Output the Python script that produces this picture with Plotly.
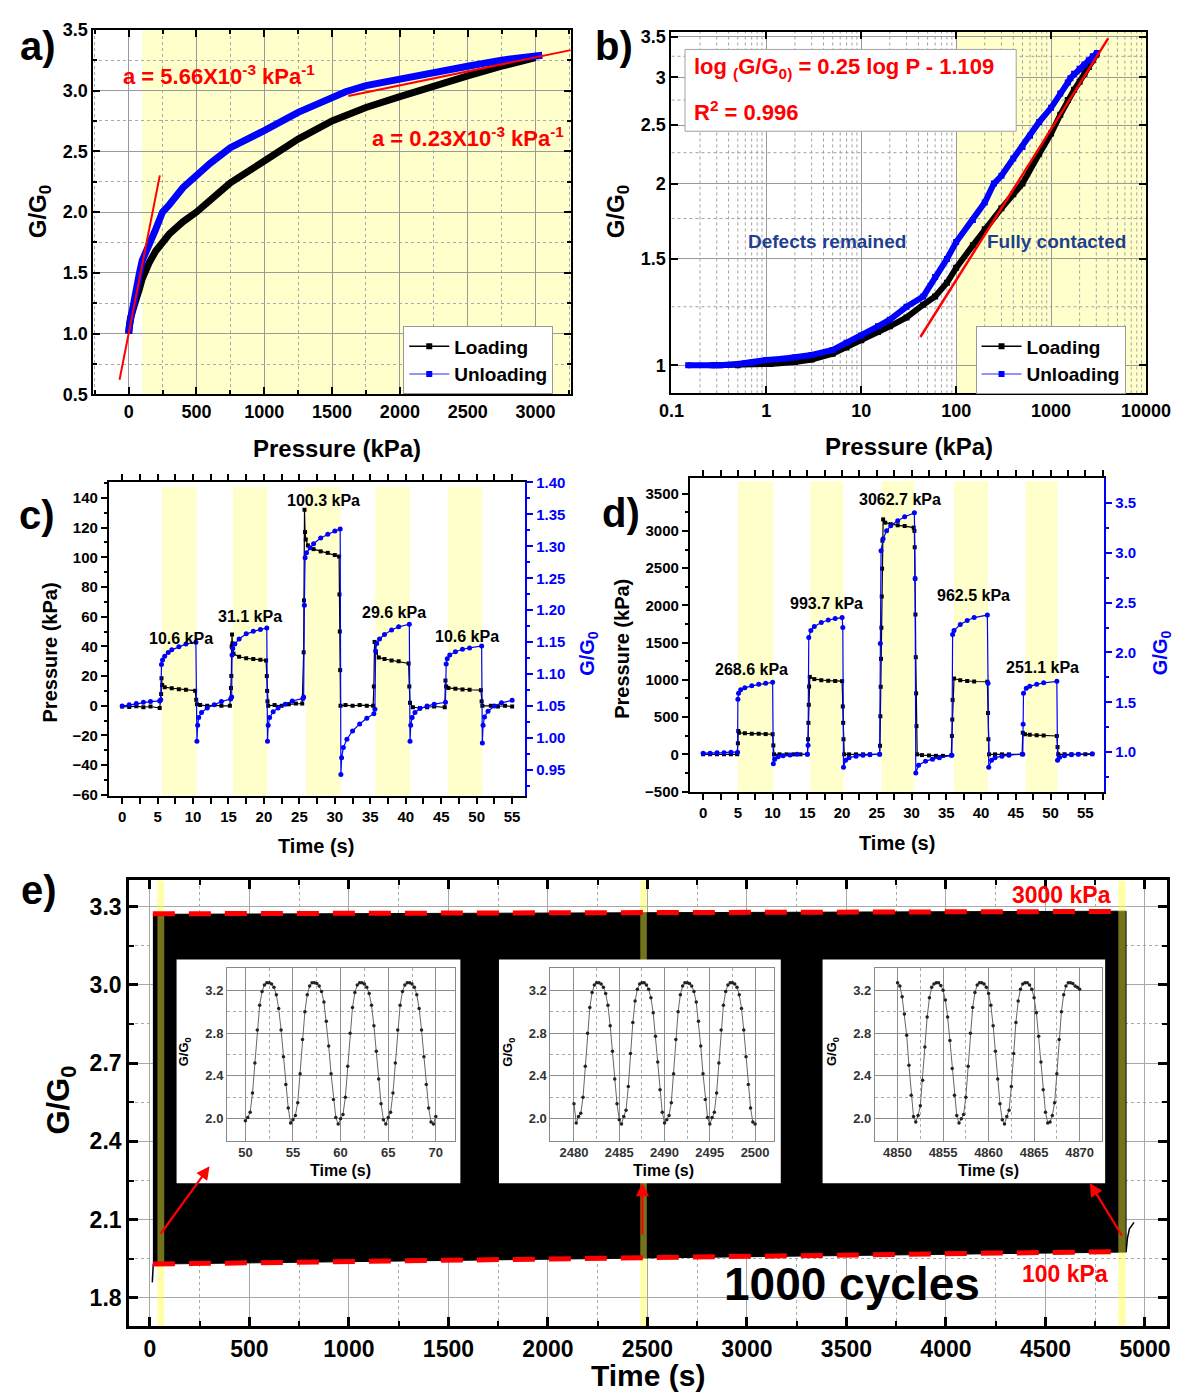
import math
import plotly.graph_objects as go

FONT = "Arial, 'Liberation Sans', Helvetica, sans-serif"
W, H = 1200, 1400
BLUE = "#0000FF"
RED = "#FF0000"
SHADE = "#FFFFCC"
NAVY = "#1F3F8F"


def fx(p):
    return p / W


def fy(p):
    return 1 - p / H


# ---------------- (a) / (b): G/G0 versus pressure ----------------
load_p = [0, 0.27, 0.5, 1.1, 2, 3, 5, 7, 10, 15, 20, 30, 45, 60, 80, 100, 150, 200, 300, 400,
          500, 750, 1000, 1250, 1500, 1750, 2000, 2250, 2500, 2750, 3000]
load_g = [1.0, 1.0, 1.0, 1.005, 1.012, 1.022, 1.045, 1.07, 1.1, 1.135, 1.16, 1.2, 1.26, 1.3, 1.37, 1.45,
          1.58, 1.68, 1.82, 1.92, 2.0, 2.24, 2.42, 2.6, 2.75, 2.86, 2.95, 3.04, 3.12, 3.2, 3.27]
unload_p = [3050, 2750, 2500, 2250, 2000, 1750, 1600, 1500, 1250, 1000, 750, 600, 500, 400, 300, 250,
            200, 150, 100, 80, 60, 45, 30, 20, 15, 10, 7, 5, 3, 2, 1.5, 1, 0.7, 0.6, 0.5, 0.33, 0.15, 0]
unload_g = [3.29, 3.25, 3.2, 3.15, 3.1, 3.04, 2.99, 2.94, 2.82, 2.67, 2.53, 2.40, 2.3, 2.2, 2.06, 2.0,
            1.86, 1.74, 1.6, 1.5, 1.4, 1.3, 1.25, 1.19, 1.16, 1.12, 1.09, 1.06, 1.04, 1.03, 1.025, 1.02,
            1.01, 1.008, 1.005, 1.0, 1.0, 1.0]

# linear sensitivities (kPa^-1) and the ranges they are drawn over
slope_low, slope_high = 5.66e-3, 0.23e-3
fit_low_p = [-67, 230]
fit_high_p = [1620, 3260]
fit_high_start = 2.955

# power-law fit: log(G/G0) = 0.25 log P - 1.109 (P in Pa)
fit_exp, fit_const = 0.25, -1.109
fit_log_p = [42, 4000]

# ---------------- (c): low pressure steps ----------------
c_t_p = [0, 1, 2, 3, 4, 5.3, 5.5, 5.55, 5.65, 6, 7, 8, 9, 10.3, 10.45, 10.55, 11, 12, 13, 14,
         15.2, 15.35, 15.4, 15.45, 15.5, 15.55, 15.7, 16.5, 17.5, 18.5, 19.5, 20.3, 20.4, 20.45, 20.5, 20.6,
         21.5, 22.5, 23.5, 24.5, 25.4, 25.6, 25.65, 25.72, 25.8, 25.9, 26.2, 27, 28, 29, 30, 30.6, 30.65,
         30.7, 30.75, 30.8, 31.5, 32.5, 33.5, 34.5, 35.4, 35.5, 35.6, 35.8, 36.2, 37, 38, 39, 40.4, 40.5,
         40.6, 41, 42, 43, 44, 45.5, 45.6, 45.7, 46, 47, 48, 49, 50.6, 50.7, 50.8, 52, 53, 54, 55]
c_p = [-0.5, -0.8, -0.3, -1, -0.5, -1.5, 8, 18.5, 14, 12.5, 11.8, 11.2, 10.8, 10.2, 4, 1, 0.5, 0, 0.5, 0,
       0, 12, 20, 40, 48, 42, 35, 33, 32, 31.5, 31, 30.5, 20, 10, 3, 0,
       0.5, 0, 1, 1.5, 1.5, 36, 71, 132, 117, 112, 108, 105.5, 104, 103, 101.5, 100.5, 75,
       50, 24, 0, 0.5, 0, 0.5, 0, 0, 13, 43, 36, 32.5, 31.5, 30.5, 30, 28.5, 13,
       2, -1, -1.5, -1, -0.5, -1, 17, 13, 12, 11.5, 11, 10.8, 10.5, 3, 0, 0, -0.5, 0, -0.5]
c_t_g = [0, 1, 2, 3, 4, 5.3, 5.45, 5.55, 5.7, 6, 6.5, 7, 8, 9, 10.4, 10.55, 10.65, 10.8, 11.2, 12, 13, 14,
         15.3, 15.45, 15.5, 15.6, 15.9, 16.5, 17.5, 18.5, 19.5, 20.4, 20.5, 20.6, 20.8, 21.3, 22, 23, 24,
         25.5, 25.6, 25.7, 25.8, 26, 26.5, 27, 28, 29, 30, 30.75, 30.85, 30.95, 31.2, 31.7, 32.5, 33.5,
         34.5, 35.5, 35.65, 35.75, 35.9, 36.3, 37, 38, 39, 40.5, 40.6, 40.7, 40.9, 41.3, 42, 43, 44,
         45.6, 45.7, 45.85, 46.2, 47, 48, 49, 50.7, 50.8, 50.9, 51.1, 51.6, 52.5, 53.5, 55]
c_g = [1.050, 1.052, 1.054, 1.056, 1.057, 1.058, 1.060, 1.115, 1.122, 1.128, 1.134, 1.138, 1.143, 1.147,
       1.150, 0.995, 1.02, 1.032, 1.040, 1.047, 1.052, 1.057,
       1.061, 1.064, 1.13, 1.14, 1.147, 1.155, 1.163, 1.167, 1.170, 1.172, 0.995, 1.02, 1.032, 1.041,
       1.047, 1.053, 1.058,
       1.062, 1.064, 1.208, 1.282, 1.290, 1.298, 1.304, 1.313, 1.319, 1.324, 1.327, 0.943, 0.969, 0.985,
       0.998, 1.011, 1.022,
       1.031, 1.038, 1.045, 1.136, 1.148, 1.155, 1.162, 1.169, 1.174, 1.178, 0.995, 1.02, 1.032, 1.040,
       1.046, 1.050, 1.053,
       1.056, 1.116, 1.124, 1.130, 1.135, 1.139, 1.141, 1.144, 0.992, 1.02, 1.033, 1.042, 1.050, 1.055,
       1.059]
c_bands = [(5.6, 10.5), (15.6, 20.5), (25.9, 30.8), (35.7, 40.6), (45.9, 50.8)]
c_labels = ["10.6 kPa", "31.1 kPa", "100.3 kPa", "29.6 kPa", "10.6 kPa"]
c_label_t = [8.25, 18.07, 28.36, 38.4, 48.7]
c_label_p = [45.6, 60.4, 138.5, 62.7, 46.7]

# ---------------- (d): high pressure steps ----------------
d_t_p = [0, 1, 2, 3, 4, 4.9, 5.0, 5.05, 5.15, 6, 7, 8, 9, 10.0, 10.1, 10.2, 11, 12, 13, 14,
         15.0, 15.1, 15.15, 15.2, 15.25, 15.35, 16, 17, 18, 19, 20.0, 20.1, 20.15, 20.2, 20.3, 21, 22, 23,
         24, 25.4, 25.45, 25.5, 25.55, 25.6, 25.65, 25.7, 25.75, 25.8, 25.9, 26.2, 27, 28, 29, 30.3, 30.4,
         30.45, 30.5, 30.55, 30.6, 30.65, 30.7, 30.8, 31.5, 32.5, 33.5, 34.5, 35.7, 35.8, 35.85, 35.9,
         36.1, 37, 38, 39, 40.9, 41.0, 41.05, 41.15, 42, 43, 44, 45.9, 46.0, 46.3, 47, 48, 49, 50.9, 51.0,
         51.1, 52, 53, 54, 55, 56]
d_p = [0, 0, 0, 0, 0, 0, 150, 313, 290, 282, 278, 275, 272, 270, 120, 0, 0, 0, 0, 0,
       0, 203, 423, 665, 910, 1040, 1010, 995, 988, 985, 983, 643, 423, 203, 0, 0, 0, 0,
       0, 0, 115, 511, 907, 1282, 1700, 2119, 2493, 2868, 3154, 3110, 3090, 3075, 3065, 3044, 3000,
       2780, 2362, 1877, 1304, 819, 379, 0, -10, -15, -20, -20, -15, 247, 467, 731,
       1018, 995, 985, 978, 975, 555, 203, 0, 0, 0, 0, 0, 291, 269, 262, 257, 253, 247, 100,
       0, 0, 0, 0, 0, 0]
d_t_g = [0, 1, 2, 3, 4, 4.95, 5.0, 5.1, 5.4, 6, 7, 8, 9, 10.0, 10.1, 10.3, 10.8, 11.5, 12.5, 13.5,
         15.0, 15.1, 15.2, 15.5, 16, 17, 18, 19, 20.0, 20.1, 20.2, 20.5, 21, 22, 23, 24,
         25.4, 25.5, 25.6, 25.9, 26.4, 27, 28, 29, 30.4, 30.5, 30.6, 31, 32, 33, 34,
         35.8, 35.9, 36.1, 37, 38, 39, 40.9, 41.0, 41.1, 41.5, 42, 43, 44,
         46.0, 46.05, 46.1, 46.5, 47, 48, 49, 50.9, 51.0, 51.3, 52, 53, 54, 56]
d_g = [0.99, 0.99, 0.995, 0.995, 1.0, 1.0, 1.53, 1.59, 1.625, 1.645, 1.665, 1.68, 1.69, 1.70, 0.885, 0.93,
       0.955, 0.965, 0.972, 0.978,
       0.98, 1.07, 2.15, 2.22, 2.26, 2.30, 2.325, 2.34, 2.35, 2.25, 0.85, 0.92, 0.945, 0.96, 0.97, 0.975,
       0.98, 2.09, 3.02, 3.14, 3.22, 3.27, 3.32, 3.36, 3.40, 2.74, 0.79, 0.87, 0.91, 0.93, 0.945,
       0.97, 2.18, 2.22, 2.28, 2.32, 2.35, 2.375, 1.69, 0.85, 0.92, 0.945, 0.96, 0.97,
       0.98, 1.28, 1.59, 1.64, 1.66, 1.68, 1.695, 1.71, 0.92, 0.95, 0.965, 0.975, 0.98, 0.985]
d_bands = [(5.0, 10.1), (15.4, 20.2), (25.7, 30.4), (36.1, 41.0), (46.4, 51.0)]
d_labels = ["268.6 kPa", "993.7 kPa", "3062.7 kPa", "962.5 kPa", "251.1 kPa"]
d_label_t = [7.0, 17.8, 28.3, 38.9, 48.9]
d_label_p = [1139, 2020, 3420, 2130, 1165]

# ---------------- (e): 1000 loading cycles ----------------
e_time = [15, 500, 1000, 1500, 2000, 2500, 3000, 3500, 4000, 4500, 4905]
e_upper = [3.27, 3.271, 3.273, 3.274, 3.276, 3.277, 3.278, 3.279, 3.280, 3.281, 3.282]
e_lower = [1.930, 1.935, 1.940, 1.945, 1.950, 1.955, 1.960, 1.963, 1.967, 1.972, 1.976]
e_head_t = [12, 14, 17]
e_head_g = [1.86, 1.89, 1.93]
e_tail_t = [4905, 4912, 4922, 4945]
e_tail_g = [1.976, 2.03, 2.065, 2.09]
e_line_t = [15, 4880]
e_top_line = [3.272, 3.281]      # 3000 kPa level
e_bottom_line = [1.930, 1.978]   # 100 kPa level
e_windows = [(38, 72), (2464, 2497), (4866, 4903)]

inset1_g = [1.98, 2.01, 2.06, 2.24, 2.52, 2.83, 3.06, 3.19, 3.25, 3.27, 3.27, 3.26, 3.23, 3.16, 3.03, 2.83,
            2.58, 2.32, 2.10, 1.96, 1.99, 2.03, 2.15, 2.42, 2.74, 3.00, 3.16, 3.24, 3.27, 3.27, 3.265,
            3.24, 3.19, 3.09, 2.91, 2.68, 2.42, 2.18, 2.01, 1.95, 2.00, 2.04, 2.20, 2.49, 2.80, 3.04,
            3.18, 3.25, 3.27, 3.27, 3.26, 3.23, 3.17, 3.06, 2.87, 2.63, 2.37, 2.14, 1.99, 1.95, 2.01,
            2.06, 2.24, 2.52, 2.83, 3.06, 3.19, 3.25, 3.27, 3.27, 3.26, 3.23, 3.16, 3.03, 2.83, 2.58,
            2.32, 2.10, 1.97, 1.95, 2.02]
inset2_g = [2.14, 1.96, 2.02, 2.05, 2.20, 2.49, 2.80, 3.04, 3.18, 3.25, 3.27, 3.27, 3.26, 3.23, 3.17,
            3.06, 2.87, 2.63, 2.37, 2.14, 1.99, 1.95, 2.02, 2.08, 2.30, 2.61, 2.90, 3.10, 3.21, 3.26,
            3.27, 3.27, 3.25, 3.21, 3.13, 2.99, 2.77, 2.53, 2.27, 2.06, 1.96, 1.99, 2.03, 2.15, 2.42,
            2.74, 3.00, 3.16, 3.24, 3.27, 3.27, 3.265, 3.24, 3.19, 3.09, 2.91, 2.68, 2.42, 2.18, 2.01,
            1.95, 2.01, 2.06, 2.24, 2.52, 2.83, 3.06, 3.19, 3.25, 3.27, 3.27, 3.26, 3.23, 3.16, 3.03,
            2.83, 2.58, 2.32, 2.10, 1.97, 1.95]
inset3_g = [3.27, 3.24, 3.14, 2.98, 2.78, 2.50, 2.22, 2.02, 1.97, 2.03, 2.12, 2.36, 2.67, 2.95, 3.13,
            3.23, 3.26, 3.27, 3.27, 3.245, 3.20, 3.11, 2.95, 2.73, 2.47, 2.22, 2.03, 1.96, 2.00, 2.04,
            2.20, 2.49, 2.80, 3.04, 3.18, 3.25, 3.27, 3.27, 3.26, 3.23, 3.17, 3.06, 2.87, 2.63, 2.37,
            2.14, 1.99, 1.95, 2.02, 2.08, 2.30, 2.61, 2.90, 3.10, 3.21, 3.26, 3.27, 3.27, 3.25, 3.21,
            3.13, 2.99, 2.77, 2.53, 2.27, 2.06, 1.96, 1.97, 2.03, 2.15, 2.42, 2.74, 3.00, 3.16, 3.24,
            3.27, 3.27, 3.265, 3.24, 3.23, 3.21]
inset_start = [50.0, 2480.0, 4850.0]
sample_step = 0.25

fig = go.Figure()


def add(trace, xa, ya):
    trace.update(xaxis=xa, yaxis=ya)
    if trace.showlegend is None:
        trace.showlegend = False
    trace.hoverinfo = "skip"
    fig.add_trace(trace)


# ---- (a) ----
add(go.Scatter(x=load_p, y=load_g, mode="lines", line=dict(color="black", width=7)), "x", "y")
add(go.Scatter(x=unload_p, y=unload_g, mode="lines", line=dict(color=BLUE, width=7)), "x", "y")
add(go.Scatter(x=fit_low_p, y=[1.0 + slope_low * p for p in fit_low_p], mode="lines",
               line=dict(color=RED, width=2)), "x", "y")
add(go.Scatter(x=fit_high_p, y=[fit_high_start + slope_high * (p - fit_high_p[0]) for p in fit_high_p],
               mode="lines", line=dict(color=RED, width=2)), "x", "y")
for nm, col, lcol in [("Loading", "black", "black"), ("Unloading", BLUE, "#7070FF")]:
    fig.add_trace(go.Scatter(x=[None], y=[None], mode="lines+markers", name=nm, legend="legend",
                             line=dict(color=lcol, width=1.5), marker=dict(symbol="square", size=6, color=col),
                             xaxis="x", yaxis="y", showlegend=True))

# ---- (b) ----
b_ylo, b_yhi = 0.898, 3.57
gx, gy = [], []
for dec in [0.1, 1, 10, 100, 1000]:
    for k in range(2, 10):
        gx += [k * dec, k * dec, None]
        gy += [b_ylo, b_yhi, None]
for v in [1.25, 1.75, 2.25, 2.75, 3.25]:
    gx += [0.1, 10000, None]
    gy += [v, v, None]
add(go.Scatter(x=gx, y=gy, mode="lines", line=dict(color="#A0A0A0", width=1, dash="dot")), "x2", "y2")
bl = [(p, g) for p, g in zip(load_p, load_g) if p > 0]
bu = [(p, g) for p, g in zip(unload_p, unload_g) if p > 0]
add(go.Scatter(x=[p for p, _ in bl], y=[g for _, g in bl], mode="lines+markers",
               line=dict(color="black", width=6), marker=dict(symbol="square", size=6, color="black")), "x2", "y2")
add(go.Scatter(x=[p for p, _ in bu], y=[g for _, g in bu], mode="lines+markers",
               line=dict(color=BLUE, width=6), marker=dict(symbol="square", size=6, color=BLUE)), "x2", "y2")
add(go.Scatter(x=fit_log_p, y=[10 ** (fit_exp * math.log10(p * 1000) + fit_const) for p in fit_log_p],
               mode="lines", line=dict(color=RED, width=2.5)), "x2", "y2")
for nm, col, lcol in [("Loading", "black", "black"), ("Unloading", BLUE, "#7070FF")]:
    fig.add_trace(go.Scatter(x=[None], y=[None], mode="lines+markers", name=nm, legend="legend2",
                             line=dict(color=lcol, width=1.5), marker=dict(symbol="square", size=6, color=col),
                             xaxis="x2", yaxis="y2", showlegend=True))

# ---- (c) ----
add(go.Scatter(x=c_t_p, y=c_p, mode="lines+markers", line=dict(color="black", width=1.2),
               marker=dict(symbol="square", size=4, color="black")), "x3", "y3")
add(go.Scatter(x=c_t_g, y=c_g, mode="lines+markers", line=dict(color=BLUE, width=1.2),
               marker=dict(symbol="circle", size=5, color=BLUE)), "x3", "y4")

# ---- (d) ----
add(go.Scatter(x=d_t_p, y=d_p, mode="lines+markers", line=dict(color="black", width=1.2),
               marker=dict(symbol="square", size=4, color="black")), "x4", "y5")
add(go.Scatter(x=d_t_g, y=d_g, mode="lines+markers", line=dict(color=BLUE, width=1.2),
               marker=dict(symbol="circle", size=5, color=BLUE)), "x4", "y6")

# ---- (e) ----
add(go.Scatter(x=e_time + e_time[::-1], y=e_upper + e_lower[::-1], mode="lines", fill="toself",
               fillcolor="black", line=dict(color="black", width=1)), "x5", "y7")
add(go.Scatter(x=e_head_t, y=e_head_g, mode="lines", line=dict(color="black", width=1.5)), "x5", "y7")
add(go.Scatter(x=e_tail_t, y=e_tail_g, mode="lines", line=dict(color="black", width=1.5)), "x5", "y7")
for t0, t1 in e_windows:
    add(go.Scatter(x=[t0, t1, t1, t0, t0], y=[1.693, 1.693, 3.4, 3.4, 1.693], mode="lines", fill="toself",
                   fillcolor="rgba(255,255,60,0.45)", line=dict(width=0)), "x5", "y7")
# white panels behind the zoomed views
for t0, t1 in [(134, 1560), (1754, 3170), (3380, 4800)]:
    add(go.Scatter(x=[t0, t1, t1, t0, t0], y=[2.24, 2.24, 3.097, 3.097, 2.24], mode="lines", fill="toself",
                   fillcolor="white", line=dict(width=0)), "x5", "y7")
add(go.Scatter(x=e_line_t, y=e_top_line, mode="lines", line=dict(color=RED, width=5, dash="22px,14px")),
    "x5", "y7")
add(go.Scatter(x=e_line_t, y=e_bottom_line, mode="lines", line=dict(color=RED, width=5, dash="22px,14px")),
    "x5", "y7")

inset_axes = [("x6", "y8"), ("x7", "y9"), ("x8", "y10")]
for (xa, ya), g, t0 in zip(inset_axes, [inset1_g, inset2_g, inset3_g], inset_start):
    t = [t0 + sample_step * i for i in range(len(g))]
    add(go.Scatter(x=t, y=g, mode="lines+markers", line=dict(color="#666", width=1),
                   marker=dict(size=3.5, color="#222")), xa, ya)


# ---------------- axes ----------------
def tfont(size, color="black"):
    return dict(family=FONT, size=size, color=color, weight="bold")


def axis(size, ticks, lw=2, ticklen=7, mirror="allticks", color="black", **kw):
    d = dict(showline=True, linecolor=color, linewidth=lw, mirror=mirror, ticks=ticks, ticklen=ticklen,
             tickwidth=lw, tickcolor=color, tickfont=tfont(size, color), zeroline=False, showgrid=False,
             fixedrange=True)
    d.update(kw)
    return d


def minor(dt, ticks, grid=False, color="black", ticklen=4):
    return dict(dtick=dt, ticks=ticks, ticklen=ticklen, tickwidth=1.5, tickcolor=color, showgrid=grid,
                griddash="dot", gridcolor="#AAAAAA", gridwidth=1)


GRID = "#9A9A9A"
layout_axes = dict(
    xaxis=axis(18, "inside", domain=[fx(83), fx(576)], anchor="y", range=[-260, 3260], tick0=0, dtick=500,
               minor=minor(250, "inside", True), showgrid=True, gridcolor=GRID, gridwidth=1.2),
    yaxis=axis(18, "inside", domain=[fy(390), fy(20)], anchor="x", range=[0.5, 3.5], tick0=0.5, dtick=0.5,
               tickformat=".1f", minor=minor(0.25, "inside", True), showgrid=True, gridcolor=GRID,
               gridwidth=1.2),
    xaxis2=axis(18, "inside", type="log", domain=[fx(680), fx(1170)], anchor="y2", range=[-1, 4],
                tickvals=[0.1, 1, 10, 100, 1000, 10000], ticktext=["0.1", "1", "10", "100", "1000", "10000"],
                showgrid=True, gridcolor=GRID, gridwidth=1.2),
    yaxis2=axis(18, "inside", type="log", domain=[fy(389), fy(22)], anchor="x2",
                range=[math.log10(b_ylo), math.log10(b_yhi)],
                tickvals=[1, 1.5, 2, 2.5, 3, 3.5], ticktext=["1", "1.5", "2", "2.5", "3", "3.5"],
                showgrid=True, gridcolor=GRID, gridwidth=1.2),
    xaxis3=axis(15, "outside", ticklen=6, domain=[fx(99), fx(529)], anchor="y3", range=[-1.87, 56.85],
                tick0=0, dtick=5, minor=minor(2.5, "outside", ticklen=3)),
    yaxis3=axis(15, "outside", ticklen=6, mirror=False, domain=[fy(797), fy(479)], anchor="x3",
                range=[-60.5, 150.6], tick0=0, dtick=20, minor=minor(10, "outside", ticklen=3)),
    yaxis4=axis(15, "outside", ticklen=6, mirror=False, color=BLUE, overlaying="y3", side="right",
                anchor="x3", range=[0.9098, 1.4005], tick0=1.0, dtick=0.05, tickformat=".2f",
                minor=minor(0.025, "outside", color=BLUE, ticklen=3)),
    xaxis4=axis(15, "outside", ticklen=6, domain=[fx(699), fx(1127)], anchor="y5", range=[-1.91, 57.73],
                tick0=0, dtick=5, minor=minor(2.5, "outside", ticklen=3)),
    yaxis5=axis(15, "outside", ticklen=6, mirror=False, domain=[fy(793), fy(475)], anchor="x4",
                range=[-501, 3707], tick0=0, dtick=500, minor=minor(250, "outside", ticklen=3)),
    yaxis6=axis(15, "outside", ticklen=6, mirror=False, color=BLUE, overlaying="y5", side="right",
                anchor="x4", range=[0.604, 3.747], tick0=1.0, dtick=0.5, tickformat=".1f",
                minor=minor(0.25, "outside", color=BLUE, ticklen=3)),
    xaxis5=axis(23, "inside", lw=3, ticklen=9, domain=[fx(120), fx(1192)], anchor="y7", range=[-104, 5112],
                tick0=0, dtick=500, minor=minor(250, "inside", True, ticklen=5), showgrid=True,
                gridcolor="#A8A8A8", gridwidth=1),
    yaxis7=axis(23, "inside", lw=3, ticklen=9, domain=[fy(1335), fy(883)], anchor="x5", range=[1.693, 3.4],
                tick0=1.8, dtick=0.3, tickformat=".1f", minor=minor(0.15, "inside", True, ticklen=5),
                showgrid=True, gridcolor="#A8A8A8", gridwidth=1),
)

inset_x = [([221, 456], [48.07, 71.97], 50), ([555, 786], [2477.4, 2502.1], 2480),
           ([890, 1125], [4847.5, 4872.5], 4850)]
for (xd, xr, t0), (xa, ya) in zip(inset_x, inset_axes):
    xk = "xaxis" + xa[1:]
    yk = "yaxis" + ya[1:]
    common = dict(showline=True, linecolor="#888", linewidth=1, mirror=True, ticks="", zeroline=False,
                  showgrid=True, gridcolor="#8C8C8C", gridwidth=1, tickfont=tfont(13, "#333"), fixedrange=True)
    layout_axes[xk] = dict(common, domain=[fx(xd[0]), fx(xd[1])], anchor=ya, range=xr, tick0=t0, dtick=5,
                           minor=dict(dtick=2.5, showgrid=True, griddash="dot", gridcolor="#AAA"))
    layout_axes[yk] = dict(common, domain=[fy(1147), fy(972)], anchor=xa, range=[1.795, 3.408], tick0=2.0,
                           dtick=0.4, tickformat=".1f",
                           minor=dict(dtick=0.2, showgrid=True, griddash="dot", gridcolor="#AAA"))


# ---------------- annotations ----------------
def label(xp, yp, text, size, color="black", angle=0, xanchor="center", yanchor="middle"):
    return dict(x=fx(xp), y=fy(yp), xref="paper", yref="paper", text=text, showarrow=False,
                font=tfont(size, color), textangle=angle, xanchor=xanchor, yanchor=yanchor)


G0 = "G/G<sub>0</sub>"
ann = [
    label(26, 37, "a)", 40), label(621, 37, "b)", 40), label(25, 512, "c)", 40), label(628, 510, "d)", 40),
    label(27, 893, "e)", 40),
    # (a)
    label(27, 205, G0, 24, angle=-90), label(335, 445, "Pressure (kPa)", 24),
    label(112, 66, "a = 5.66X10<sup>-3</sup> kPa<sup>-1</sup>", 22, RED, xanchor="left"),
    label(369, 129, "a = 0.23X10<sup>-3</sup> kPa<sup>-1</sup>", 22, RED, xanchor="left"),
    # (b)
    label(624, 205, G0, 24, angle=-90), label(925, 443, "Pressure (kPa)", 24),
    label(701, 59, "log <sub>(</sub>G/G<sub>0</sub><sub>)</sub> = 0.25 log P - 1.109", 22, RED,
          xanchor="left"),
    label(701, 102, "R<sup>2</sup> = 0.996", 22, RED, xanchor="left"),
    label(841, 235, "Defects remained", 19, NAVY), label(1078, 235, "Fully contacted", 19, NAVY),
    # (c)
    label(38, 652, "Pressure (kPa)", 20, angle=-90), label(313, 848, "Time (s)", 20),
    label(594, 653, G0, 20, BLUE, angle=-90),
    # (d)
    label(629, 648, "Pressure (kPa)", 20, angle=-90), label(913, 845, "Time (s)", 20),
    label(1186, 652, G0, 20, BLUE, angle=-90),
    # (e)
    label(50, 1106, G0, 31, angle=-90), label(656, 1385, "Time (s)", 30),
    label(1083, 898, "3000 kPa", 23, RED), label(1086, 1282, "100 kPa", 23, RED),
    label(866, 1292, "1000 cycles", 46),
]
for (xd, _, _), cx in zip(inset_x, [338, 672, 1007]):
    ann.append(label(cx, 1177, "Time (s)", 16))
    ann.append(label(xd[0] - 43, 1057, G0, 13, angle=-90))

for t, p, s in zip(c_label_t, c_label_p, c_labels):
    ann.append(dict(x=t, y=p, xref="x3", yref="y3", text=s, showarrow=False, font=tfont(16)))
for t, p, s in zip(d_label_t, d_label_p, d_labels):
    ann.append(dict(x=t, y=p, xref="x4", yref="y5", text=s, showarrow=False, font=tfont(16)))

for (hx, hy), (tx, ty) in [((203, 1173), (153, 1242)), ((650, 1190), (650, 1243)),
                           ((1112, 1190), (1145, 1244))]:
    ann.append(dict(x=fx(hx), y=fy(hy), xref="paper", yref="paper", ax=tx - hx, ay=ty - hy, text="",
                    showarrow=True, arrowhead=2, arrowsize=1.2, arrowwidth=2.2, arrowcolor=RED))

# ---------------- shapes ----------------
shapes = [
    dict(type="rect", xref="x", yref="y domain", x0=100, x1=3260, y0=0, y1=1, fillcolor=SHADE,
         line=dict(width=0), layer="below"),
    dict(type="rect", xref="x2", yref="y2 domain", x0=100, x1=10000, y0=0, y1=1, fillcolor=SHADE,
         line=dict(width=0), layer="below"),
    dict(type="rect", xref="paper", yref="paper", x0=fx(694), x1=fx(1036), y0=fy(123), y1=fy(40),
         fillcolor="white", line=dict(color="#A0A0A0", width=1), layer="above"),
]
for t0, t1 in c_bands:
    shapes.append(dict(type="rect", xref="x3", yref="y3 domain", x0=t0, x1=t1, y0=0, y1=0.985,
                       fillcolor=SHADE, line=dict(width=0), layer="below"))
for t0, t1 in d_bands:
    shapes.append(dict(type="rect", xref="x4", yref="y5 domain", x0=t0, x1=t1, y0=0, y1=0.99,
                       fillcolor=SHADE, line=dict(width=0), layer="below"))

legend_style = dict(xanchor="left", yanchor="top", bgcolor="white", bordercolor="#999", borderwidth=1,
                    font=tfont(19), itemwidth=40, tracegroupgap=0)

fig.update_layout(
    width=W, height=H, margin=dict(l=0, r=0, t=0, b=0),
    paper_bgcolor="white", plot_bgcolor="white",
    font=dict(family=FONT, color="black"),
    legend=dict(legend_style, x=fx(403), y=fy(321)),
    legend2=dict(legend_style, x=fx(994), y=fy(321)),
    annotations=ann, shapes=shapes, hovermode=False,
    **layout_axes,
)

fig.write_html("out.html")
